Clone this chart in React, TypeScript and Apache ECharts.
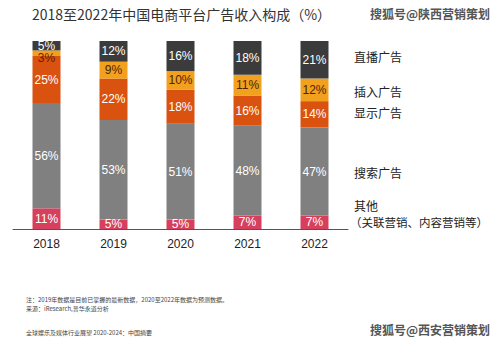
import React, { useEffect, useRef } from "react";
import * as echarts from "echarts";

const years = ["2018", "2019", "2020", "2021", "2022"];
const seriesNames = ["其他", "搜索广告", "显示广告", "插入广告", "直播广告"];
const otherVals = [11, 5, 5, 7, 7];
const searchVals = [56, 53, 51, 48, 47];
const displayVals = [25, 22, 18, 16, 14];
const insertVals = [3, 9, 10, 11, 12];
const liveVals = [5, 12, 16, 18, 21];

const colors = ["#d6405d", "#808080", "#d9520f", "#f2a11f", "#3b3b3b"];
const labelColors = ["#ffffff", "#ffffff", "#ffffff", "#4a2506", "#ffffff"];

export default function App() {
  const ref = useRef<HTMLDivElement>(null);
  useEffect(() => {
    document.body.style.margin = "0";
    const chart = echarts.init(ref.current!, null, { renderer: "svg" });
    const values = [otherVals, searchVals, displayVals, insertVals, liveVals];
    const font = "Arial, 'Liberation Sans', 'Noto Sans CJK SC', sans-serif";
    const cjk = "'Noto Sans CJK SC', sans-serif";
    const legendTop = [199, 166, 106, 85, 50];
    chart.setOption({
      animation: false,
      backgroundColor: "#ffffff",
      grid: { left: 13, right: 151, top: 41, bottom: 115 },
      xAxis: {
        type: "category",
        data: years,
        axisLine: { lineStyle: { color: "#555", width: 1 } },
        axisTick: { show: false },
        axisLabel: { color: "#222", fontSize: 12, margin: 9, fontFamily: font },
      },
      yAxis: {
        type: "value",
        min: 0,
        max: 100,
        show: false,
        splitLine: { show: false },
      },
      series: values.map((v, i) => ({
        name: seriesNames[i],
        type: "bar",
        stack: "total",
        barWidth: 28,
        data: v.map((x) =>
          x < 5
            ? { value: x, label: { offset: [0, 5], color: "#6a1a05" } }
            : x
        ),
        itemStyle: { color: colors[i] },
        label: {
          show: true,
          position: "inside",
          formatter: "{c}%",
          color: labelColors[i],
          fontSize: 12,
          fontFamily: font,
        },
      })),
      graphic: [
        {
          type: "text",
          left: 32,
          top: 7,
          style: {
            text: "2018至2022年中国电商平台广告收入构成（%）",
            fontSize: 14,
            fill: "#333",
            fontFamily: cjk,
          },
        },
        {
          type: "text",
          left: 370,
          top: 7,
          style: {
            text: "搜狐号@陕西营销策划",
            fontSize: 12,
            fontWeight: "bold",
            fill: "#555",
            fontFamily: cjk,
          },
        },
        ...seriesNames.map((n, i) => ({
          type: "text",
          left: 354,
          top: legendTop[i],
          style: {
            text: n,
            fontSize: 12,
            fill: "#222",
            fontFamily: cjk,
          },
        })),
        {
          type: "text",
          left: 350,
          top: 216,
          style: {
            text: "（关联营销、内容营销等）",
            fontSize: 11.5,
            fill: "#222",
            fontFamily: cjk,
          },
        },
        {
          type: "text",
          left: 26,
          top: 296,
          style: {
            text: "注：2019年数据是目前已掌握的最新数据，2020至2022年数据为预测数据。",
            fontSize: 6,
            fill: "#444",
            fontFamily: cjk,
          },
        },
        {
          type: "text",
          left: 26,
          top: 305,
          style: {
            text: "来源：iResearch,普华永道分析",
            fontSize: 6,
            fill: "#444",
            fontFamily: cjk,
          },
        },
        {
          type: "text",
          left: 26,
          top: 329,
          style: {
            text: "全球娱乐及媒体行业展望 2020-2024：中国摘要",
            fontSize: 6,
            fill: "#444",
            fontFamily: cjk,
          },
        },
        {
          type: "text",
          left: 370,
          top: 323,
          style: {
            text: "搜狐号@西安营销策划",
            fontSize: 12,
            fontWeight: "bold",
            fill: "#555",
            fontFamily: cjk,
          },
        },
      ],
    });
    return () => chart.dispose();
  }, []);
  return <div ref={ref} style={{ width: 499, height: 344 }} />;
}
